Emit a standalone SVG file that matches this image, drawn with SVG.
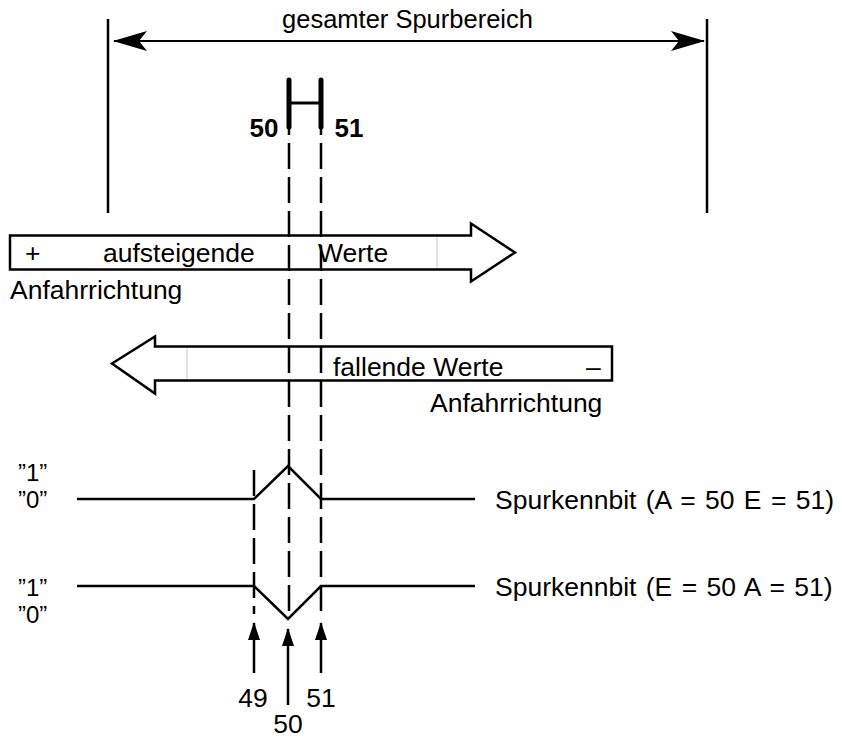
<svg xmlns="http://www.w3.org/2000/svg" width="842" height="740" viewBox="0 0 842 740">
  <defs>
    <style>
      .t { font-family: "Liberation Sans", Arial, Helvetica, sans-serif; font-size: 26.5px; fill: #000; }
      .title { font-size: 25.5px; }
      .b { font-weight: bold; font-size: 26px; }
      .lvl { font-size: 24px; }
      .sig { word-spacing: 2px; }
      .ln { stroke: #000; stroke-width: 2.5; fill: none; }
      .dash { stroke: #000; stroke-width: 2.5; fill: none; stroke-dasharray: 26 8; }
      .shape { stroke: #000; stroke-width: 2.5; fill: #fff; stroke-linejoin: miter; }
      .seam { stroke: #c8c8c8; stroke-width: 1; }
    </style>
    <marker id="barb" viewBox="0 0 34 22" refX="33" refY="11" markerWidth="34" markerHeight="22" markerUnits="userSpaceOnUse" orient="auto-start-reverse">
      <path d="M0 1 L34 11 L0 21 L8 11 Z" fill="#000"/>
    </marker>
    <marker id="tip" viewBox="0 0 18 12" refX="17" refY="6" markerWidth="18" markerHeight="12" markerUnits="userSpaceOnUse" orient="auto">
      <path d="M0 0 L18 6 L0 12 Z" fill="#000"/>
    </marker>
  </defs>

  <!-- overall track range -->
  <g id="range">
    <line class="ln" x1="108" y1="19" x2="108" y2="213"/>
    <line class="ln" x1="707" y1="19" x2="707" y2="213"/>
    <line x1="114" y1="41" x2="704" y2="41" stroke="#000" stroke-width="2" marker-start="url(#barb)" marker-end="url(#barb)"/>
    <text class="t title" x="407.5" y="28" text-anchor="middle">gesamter Spurbereich</text>
  </g>

  <!-- track 50/51 marker -->
  <g id="track-mark">
    <line x1="289" y1="80" x2="289" y2="127" stroke="#000" stroke-width="5" stroke-linecap="round"/>
    <line x1="321" y1="80" x2="321" y2="127" stroke="#000" stroke-width="5" stroke-linecap="round"/>
    <line x1="289" y1="103" x2="321" y2="103" stroke="#000" stroke-width="3"/>
    <text class="t b" x="264" y="137" text-anchor="middle">50</text>
    <text class="t b" x="349" y="137" text-anchor="middle">51</text>
  </g>

  <!-- ascending approach direction -->
  <g id="arrow-ascending">
    <path class="shape" d="M10 235.5 H471 V223.5 L515 252.5 L471 281.5 V269.5 H10 Z"/>
    <line class="seam" x1="437" y1="237" x2="437" y2="268"/>
    <text class="t" x="25" y="262">+</text>
    <text class="t" x="103" y="262">aufsteigende</text>
    <text class="t" x="318" y="262">Werte</text>
    <text class="t" x="10" y="299">Anfahrrichtung</text>
  </g>

  <!-- descending approach direction -->
  <g id="arrow-descending">
    <path class="shape" d="M612 346.5 H155 V336.5 L112 363.5 L155 393.5 V380.5 H612 Z"/>
    <line class="seam" x1="187" y1="348" x2="187" y2="379"/>
    <text class="t" x="333" y="376">fallende Werte</text>
    <text class="t" x="586" y="376">–</text>
    <text class="t" x="430" y="412">Anfahrrichtung</text>
  </g>

  <!-- signal A = 50 E = 51 -->
  <g id="signal-1">
    <text class="t lvl" x="18" y="481">”1”</text>
    <text class="t lvl" x="18" y="508">”0”</text>
    <polyline class="ln" points="77,499 254,499 288,466 321,499 475,499"/>
    <text class="t sig" x="495" y="509">Spurkennbit (A = 50 E = 51)</text>
  </g>

  <!-- signal E = 50 A = 51 -->
  <g id="signal-2">
    <text class="t lvl" x="18" y="596">”1”</text>
    <text class="t lvl" x="18" y="623">”0”</text>
    <polyline class="ln" points="77,586 254,586 288,619 321,586 475,586"/>
    <text class="t sig" x="495" y="596">Spurkennbit (E = 50 A = 51)</text>
  </g>

  <!-- connectors: dashed guides and position arrows -->
  <g id="connectors">
    <line class="dash" x1="289" y1="127" x2="289" y2="619" stroke-dashoffset="18"/>
    <line class="dash" x1="321" y1="127" x2="321" y2="614" stroke-dashoffset="18"/>
    <line class="dash" x1="254" y1="470" x2="254" y2="614"/>
    <line class="ln" x1="254" y1="673" x2="254" y2="623" marker-end="url(#tip)"/>
    <line class="ln" x1="288" y1="705" x2="288" y2="629" marker-end="url(#tip)"/>
    <line class="ln" x1="321" y1="673" x2="321" y2="623" marker-end="url(#tip)"/>
    <text class="t" x="253" y="707" text-anchor="middle">49</text>
    <text class="t" x="321" y="707" text-anchor="middle">51</text>
    <text class="t" x="288" y="733" text-anchor="middle">50</text>
  </g>
</svg>
